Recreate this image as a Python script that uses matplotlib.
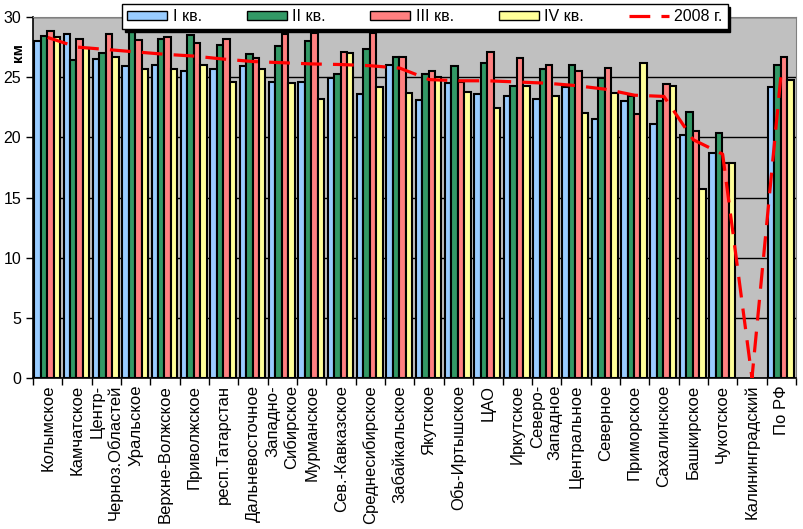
import matplotlib
matplotlib.use("Agg")
import matplotlib.pyplot as plt
from matplotlib.patches import Patch
from matplotlib.lines import Line2D
import numpy as np

plt.rcParams['font.family'] = ['Liberation Sans', 'DejaVu Sans']

regions = ['Колымское', 'Камчатское', 'Центр-\nЧерноз.Областей', 'Уральское',
           'Верхне-Волжское', 'Приволжское', 'респ.Татарстан', 'Дальневосточное',
           'Западно-\nСибирское', 'Мурманское', 'Сев.-Кавказское', 'Среднесибирское',
           'Забайкальское', 'Якутское', 'Обь-Иртышское', 'ЦАО', 'Иркутское',
           'Северо-\nЗападное', 'Центральное', 'Северное', 'Приморское',
           'Сахалинское', 'Башкирское', 'Чукотское', 'Калининградский', 'По РФ']

# None = no bar (Калининградский)
q1 = [28.0, 28.6, 26.55, 25.9, 26.05, 25.5, 25.65, 25.9, 24.6, 24.6, 24.9, 23.6,
      26.05, 23.1, 24.5, 23.6, 23.4, 23.15, 24.15, 21.5, 23.0, 21.1, 20.2, 18.7, None, 24.15]
q2 = [28.45, 26.4, 27.0, 29.0, 28.15, 28.5, 27.65, 26.95, 27.55, 28.0, 25.25, 27.3,
      26.65, 25.25, 25.9, 26.15, 24.25, 25.65, 26.05, 24.9, 23.4, 23.0, 22.1, 20.35, None, 26.05]
q3 = [28.8, 28.15, 28.6, 28.05, 28.3, 27.8, 28.15, 26.6, 28.6, 28.65, 27.05, 28.65,
      26.65, 25.55, 24.6, 27.05, 26.6, 26.05, 25.5, 25.75, 21.9, 24.4, 20.5, 17.85, None, 26.65]
q4 = [28.3, 27.45, 26.7, 25.65, 25.65, 26.0, 24.6, 25.65, 24.5, 23.2, 27.0, 24.15,
      23.65, 25.05, 23.75, 22.4, 24.25, 23.4, 22.0, 23.7, 26.15, 24.25, 15.7, 17.85, None, 24.75]
y2008 = [28.3, 27.5, 27.3, 27.1, 26.9, 26.75, 26.5, 26.3, 26.2, 26.1, 26.05, 25.95,
         25.75, 24.8, 24.7, 24.7, 24.6, 24.5, 24.3, 24.0, 23.5, 23.4, 19.8, 18.6, 0.0, 25.5]

series = [q1, q2, q3, q4]
names = ['I кв.', 'II кв.', 'III кв.', 'IV кв.']
colors = ['#99CCFF', '#339966', '#FF8080', '#FFFF99']

fig = plt.figure(figsize=(8.04, 5.29), dpi=100)
ax = fig.add_axes([33 / 804, 1 - 378 / 529, (796 - 33) / 804, (378 - 17) / 529])
ax.set_facecolor('#C0C0C0')

n = len(regions)
x = np.arange(n)
w = 0.22
for k, (vals, c) in enumerate(zip(series, colors)):
    v = np.array([np.nan if a is None else a for a in vals])
    ax.bar(x + 0.04 + k * w, v, width=w, align='edge', color=c,
           edgecolor='black', linewidth=1.5, zorder=3)

ax.plot(x + 0.5, y2008, color='#FF0000', linewidth=2.3, dashes=(6.5, 3.5), zorder=4)

ax.set_xlim(0, n)
ax.set_ylim(0, 30)
ax.set_yticks(range(0, 31, 5))
ax.yaxis.grid(True, color='black', linewidth=1, zorder=1)
ax.set_axisbelow(True)
ax.set_xticks(range(n + 1))
ax.set_xticklabels([])
ax.set_xticks(x + 0.5, minor=True)
ax.set_xticklabels(regions, minor=True, rotation=90, ha='center', va='top',
                   multialignment='right', fontsize=12)
ax.tick_params(axis='x', which='major', direction='out', length=5, width=1)
ax.tick_params(axis='x', which='minor', length=0, pad=5)
ax.tick_params(axis='y', direction='out', length=5, width=1, labelsize=11.5)
for s in ['left', 'bottom']:
    ax.spines[s].set_color('black')
    ax.spines[s].set_linewidth(1.2)
for s in ['top', 'right']:
    ax.spines[s].set_color('#808080')

fig.text(18 / 804, 1 - 52 / 529, 'км', rotation=90, fontweight='bold',
         fontsize=11, ha='center', va='center')

handles = [Patch(facecolor=c, edgecolor='black', linewidth=1) for c in colors]
handles.append(Line2D([], [], color='#FF0000', linewidth=2.3, dashes=(6.5, 3.5)))
leg = fig.legend(handles, names + ['2008 г.'], ncol=5, loc='center',
                 bbox_to_anchor=(425 / 804, 1 - 16.5 / 529), fontsize=11.5,
                 frameon=True, fancybox=False, edgecolor='black',
                 shadow={'color': 'black', 'alpha': 1},
                 handlelength=2.5, handleheight=0.5, handletextpad=0.35,
                 columnspacing=2.8, borderpad=0.3)
leg.get_frame().set_linewidth(1)
leg.get_frame().set_facecolor('white')

fig.savefig('out.png', dpi=100, facecolor='white')
